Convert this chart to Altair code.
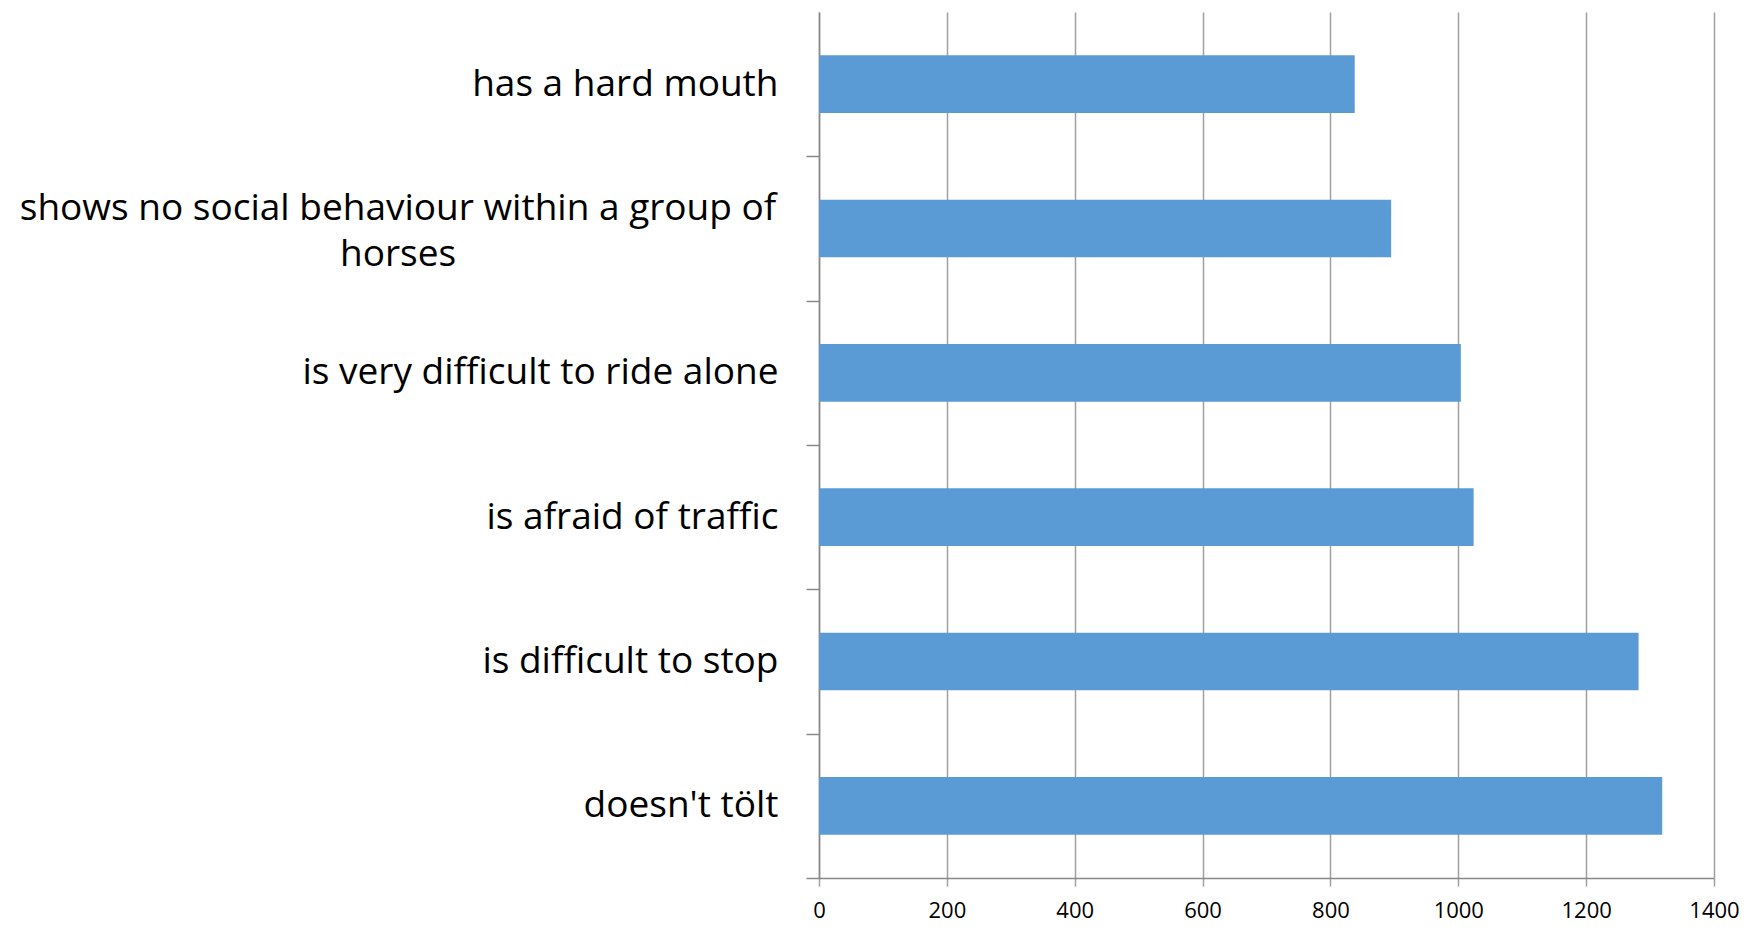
import altair as alt
import pandas as pd

categories = [
    "has a hard mouth",
    "shows no social behaviour within a group of horses",
    "is very difficult to ride alone",
    "is afraid of traffic",
    "is difficult to stop",
    "doesn't tölt",
]
values = [838, 895, 1004, 1024, 1282, 1319]
wrapped_label = "shows no social behaviour within a group of\nhorses"
x_ticks = [0, 200, 400, 600, 800, 1000, 1200, 1400]

df = pd.DataFrame({"category": categories, "value": values})
df_wrap = pd.DataFrame({"category": [categories[1]], "label": [wrapped_label]})

FONT = "Open Sans"
PLOT_W = 895
PLOT_H = 866
STEP = PLOT_H / len(categories)

y_scale = alt.Scale(domain=categories, paddingInner=0.6, paddingOuter=0.3)
x_scale = alt.Scale(domain=[0, 1400], nice=False)

bars = alt.Chart(df).mark_bar(color="#5B9BD5").encode(
    x=alt.X(
        "value:Q",
        scale=x_scale,
        axis=alt.Axis(
            title=None,
            values=x_ticks,
            format="d",
            grid=True,
            gridColor="#a0a0a0",
            gridWidth=1.5,
            domainColor="#888888",
            domainWidth=1.5,
            tickColor="#a0a0a0",
            tickSize=8,
            tickWidth=1.5,
            labelFont=FONT,
            labelFontSize=22,
            labelColor="#000000",
            labelPadding=14,
            labelFlush=False,
            labelOverlap=False,
        ),
    ),
    y=alt.Y(
        "category:N",
        sort=categories,
        scale=y_scale,
        axis=alt.Axis(
            title=None,
            grid=False,
            domainColor="#888888",
            domainWidth=1.5,
            tickColor="#888888",
            tickSize=13,
            tickWidth=1.5,
            tickOffset=STEP / 2,
            labelOffset=-STEP / 2,
            labelFont=FONT,
            labelFontSize=37,
            labelColor="#000000",
            labelPadding=28,
            labelLimit=0,
            labelExpr="datum.value == '" + categories[1] + "' ? '' : datum.value",
        ),
    ),
)

wrapped = alt.Chart(df_wrap).mark_text(
    font=FONT,
    fontSize=37,
    color="#000000",
    align="center",
    baseline="middle",
    lineBreak="\n",
    lineHeight=46,
    dy=-20,
).encode(
    y=alt.Y("category:N", sort=categories, scale=y_scale),
    x=alt.value(-421),
    text="label:N",
)

chart = (
    alt.layer(bars, wrapped)
    .properties(
        width=PLOT_W,
        height=PLOT_H,
        padding={"left": 811, "top": 4, "right": 31, "bottom": 44},
        autosize=alt.AutoSizeParams(type="none"),
    )
    .configure_view(stroke=None)
)

chart.save("out.html", embed_options={"renderer": "svg", "actions": False})
